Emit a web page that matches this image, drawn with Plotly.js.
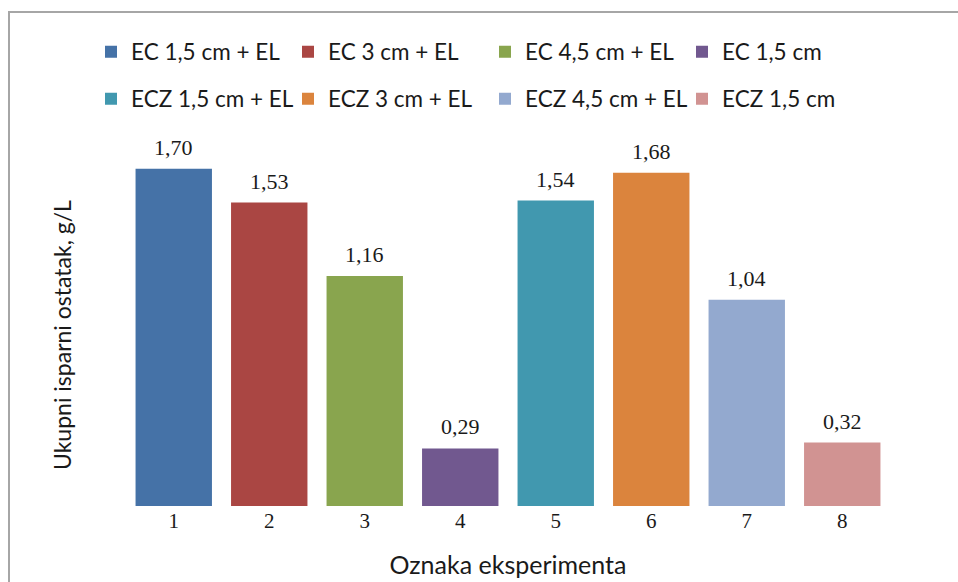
<!DOCTYPE html>
<html>
<head>
<meta charset="utf-8">
<script src="https://cdn.plot.ly/plotly-3.0.1.min.js"></script>
<style>
html,body{margin:0;padding:0;background:#fff;}
#chart{width:958px;height:582px;}
</style>
</head>
<body>
<div id="chart"></div>
<script>
const categories = ['1', '2', '3', '4', '5', '6', '7', '8'];
const seriesNames = ['EC 1,5 cm + EL', 'EC 3 cm + EL', 'EC 4,5 cm + EL', 'EC 1,5 cm',
                     'ECZ 1,5 cm + EL', 'ECZ 3 cm + EL', 'ECZ 4,5 cm + EL', 'ECZ 1,5 cm'];
const values = [1.70, 1.53, 1.16, 0.29, 1.54, 1.68, 1.04, 0.32];
const colors = ['#4572A7', '#AA4643', '#89A54E', '#71588F',
                '#4198AF', '#DB843D', '#93A9CF', '#D19392'];
const xTitle = 'Oznaka eksperimenta';
const yTitle = 'Ukupni isparni ostatak, g/L';

const sansFont = 'Lato, "Open Sans", sans-serif';
const serifFont = '"Liberation Serif", "DejaVu Serif", serif';

const legendIds = categories.map((c, i) => i === 0 ? 'legend' : 'legend' + (i + 1));

const traces = categories.map((c, i) => ({
  type: 'bar',
  x: [c],
  y: [values[i]],
  name: seriesNames[i],
  width: 0.8,
  marker: { color: colors[i], line: { width: 0 } },
  legend: legendIds[i],
  hoverinfo: 'name+y'
}));

const L = 126, R = 68, T = 149, B = 76;
const W = 958 - L - R, H = 582 - T - B;
const px2x = p => (p - L) / W;
const py2y = p => (582 - B - p) / H;

const annotations = categories.map((c, i) => ({
  x: i,
  y: values[i],
  xref: 'x',
  yref: 'y',
  text: values[i].toFixed(2).replace('.', ','),
  showarrow: false,
  yanchor: 'bottom',
  yshift: 7,
  font: { family: serifFont, size: 22, color: '#1a1a1a' }
}));

// y-axis title placed as a rotated annotation (centred like the reference)
annotations.push({
  xref: 'paper', yref: 'paper',
  x: px2x(62), y: py2y(335),
  xanchor: 'center', yanchor: 'middle',
  text: yTitle, textangle: -90, showarrow: false,
  font: { family: sansFont, size: 23, color: '#1a1a1a' }
});

// legend grid: 4 columns x 2 rows (positions in container pixels)
const legendColX = [91, 288, 485, 682];
const legendRowY = [52, 99];

const layout = {
  width: 958, height: 582,
  margin: { l: L, r: R, t: T, b: B, pad: 0 },
  paper_bgcolor: '#ffffff',
  plot_bgcolor: '#ffffff',
  separators: ',.',
  barmode: 'overlay',
  showlegend: true,
  xaxis: {
    type: 'category',
    range: [-0.5, 7.5],
    showgrid: false, zeroline: false, showline: false,
    ticks: '', ticklen: 0,
    tickfont: { family: serifFont, size: 21, color: '#1a1a1a' },
    title: { text: xTitle, standoff: 24, font: { family: sansFont, size: 25, color: '#1a1a1a' } },
    automargin: false,
    fixedrange: true
  },
  yaxis: {
    range: [0, 1.8],
    showgrid: false, zeroline: false, showline: false,
    showticklabels: false, ticks: '',
    automargin: false,
    fixedrange: true
  },
  annotations: annotations,
  shapes: [{
    type: 'rect', xref: 'paper', yref: 'paper',
    x0: px2x(9), x1: px2x(975), y0: py2y(600), y1: py2y(12),
    line: { color: '#a6a6a6', width: 2 },
    fillcolor: 'rgba(0,0,0,0)', layer: 'below'
  }]
};

legendIds.forEach((id, i) => {
  layout[id] = {
    orientation: 'h',
    xref: 'container', yref: 'container',
    xanchor: 'left', yanchor: 'middle',
    x: legendColX[i % 4] / 958,
    y: 1 - legendRowY[Math.floor(i / 4)] / 582,
    font: { family: sansFont, size: 22.5, color: '#1a1a1a' },
    bgcolor: 'rgba(0,0,0,0)',
    borderwidth: 0,
    itemclick: false, itemdoubleclick: false
  };
});

Plotly.newPlot('chart', traces, layout, { displayModeBar: false, staticPlot: true });
</script>
</body>
</html>
